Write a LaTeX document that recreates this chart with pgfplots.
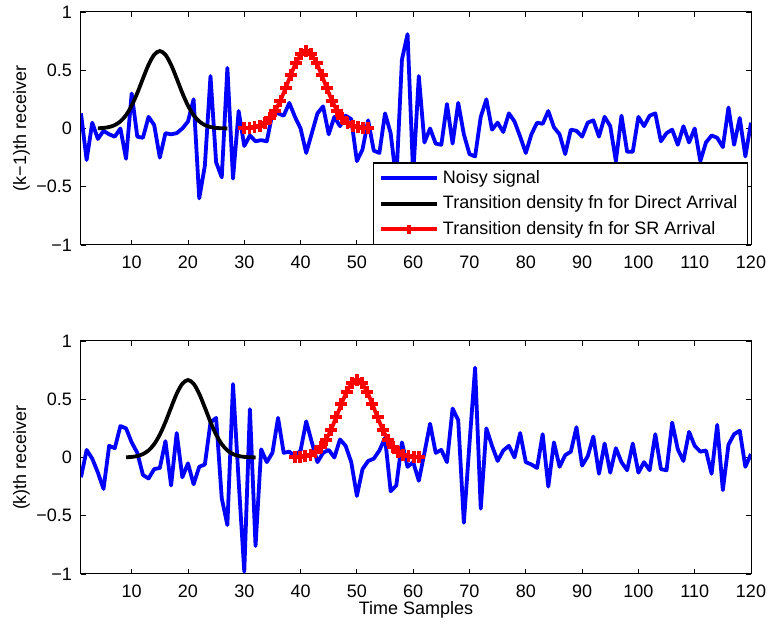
\documentclass[border=0pt]{standalone}
\usepackage{pgfplots}
\pgfplotsset{compat=1.18}
\usepackage{pgfplotstable}
\usepackage{fontspec}
\setmainfont{Liberation Sans}
\definecolor{mblue}{rgb}{0,0,1}
\definecolor{mred}{rgb}{1,0,0}

\pgfplotstableread{
x y
1 0.13
2 -0.27
3 0.05
4 -0.09
5 -0.02
6 -0.05
7 -0.07
8 0.0
9 -0.26
10 0.30
11 -0.07
12 -0.08
13 0.10
14 0.03
15 -0.25
16 -0.04
17 -0.05
18 -0.04
19 0.0
20 0.06
21 0.25
22 -0.60
23 -0.32
24 0.45
25 -0.29
26 -0.42
27 0.52
28 -0.43
29 0.15
30 -0.15
31 -0.06
32 -0.11
33 -0.10
34 -0.11
35 0.13
36 0.13
37 0.11
38 0.22
39 0.10
40 0.0
41 -0.21
42 -0.04
43 0.13
44 0.19
45 -0.05
46 0.10
47 0.02
48 0.11
49 0.08
50 -0.28
51 -0.18
52 0.07
53 -0.19
54 -0.21
55 0.13
56 -0.04
57 -0.45
58 0.59
59 0.81
60 -0.40
61 0.45
62 -0.12
63 0.0
64 -0.13
65 -0.14
66 0.21
67 -0.13
68 0.22
69 -0.05
70 -0.22
71 -0.24
72 0.10
73 0.25
74 -0.01
75 0.05
76 -0.03
77 0.13
78 0.06
79 -0.07
80 -0.21
81 -0.05
82 0.05
83 0.04
84 0.15
85 0.01
86 -0.05
87 -0.22
88 -0.01
89 -0.02
90 -0.07
91 0.05
92 0.07
93 -0.07
94 0.10
95 0.02
96 -0.28
97 0.11
98 -0.20
99 -0.20
100 0.10
101 0.02
102 0.11
103 0.13
104 -0.11
105 -0.04
106 -0.01
107 -0.14
108 0.02
109 -0.12
110 0.0
111 -0.28
112 -0.12
113 -0.06
114 -0.08
115 -0.16
116 0.18
117 -0.14
118 0.09
119 -0.24
120 0.05
}\noisetop

\pgfplotstableread{
x y
1 -0.17
2 0.065
3 -0.01
4 -0.13
5 -0.27
6 0.10
7 0.08
8 0.27
9 0.25
10 0.13
11 0.04
12 -0.15
13 -0.18
14 -0.10
15 -0.09
16 0.14
17 -0.24
18 0.21
19 -0.17
20 -0.05
21 -0.23
22 -0.08
23 -0.06
24 0.30
25 0.34
26 -0.35
27 -0.58
28 0.63
29 -0.20
30 -0.98
31 0.415
32 -0.76
33 0.07
34 -0.04
35 0.04
36 0.34
37 0.04
38 0.05
39 0.01
40 0.06
41 0.31
42 0.13
43 -0.04
44 0.04
45 0.065
46 0.0
47 0.155
48 0.10
49 -0.04
50 -0.33
51 -0.10
52 -0.03
53 -0.01
54 0.06
55 0.17
56 -0.29
57 -0.24
58 0.13
59 -0.08
60 -0.04
61 -0.20
62 0.04
63 0.29
64 0.04
65 0.065
66 -0.04
67 0.42
68 0.32
69 -0.56
70 0.12
71 0.77
72 -0.44
73 0.25
74 0.10
75 -0.03
76 0.06
77 0.10
78 0.0
79 0.21
80 -0.04
81 -0.06
82 -0.09
83 0.20
84 -0.25
85 0.13
86 -0.08
87 0.02
88 0.05
89 0.26
90 -0.07
91 0.01
92 0.18
93 -0.14
94 0.12
95 -0.13
96 0.08
97 -0.04
98 -0.11
99 0.12
100 -0.13
101 -0.04
102 -0.11
103 0.20
104 -0.10
105 -0.11
106 0.30
107 0.07
108 -0.03
109 0.22
110 0.10
111 0.05
112 0.06
113 -0.14
114 0.28
115 -0.28
116 0.11
117 0.20
118 0.23
119 -0.08
120 0.03
}\noisebot

\pgfplotstableread{
x y
4 0.0018
5 0.0050
6 0.0127
7 0.0292
8 0.0608
9 0.1146
10 0.1962
11 0.3044
12 0.4285
13 0.547
14 0.633
15 0.665
16 0.633
17 0.547
18 0.4285
19 0.3044
20 0.1962
21 0.1146
22 0.0608
23 0.0292
24 0.0127
25 0.0050
26 0.0018
27 0.0006
}\blacktop

\pgfplotstableread{
x y
9 0.0018
10 0.0050
11 0.0127
12 0.0292
13 0.0608
14 0.1146
15 0.1962
16 0.3044
17 0.4285
18 0.547
19 0.633
20 0.665
21 0.633
22 0.547
23 0.4285
24 0.3044
25 0.1962
26 0.1146
27 0.0608
28 0.0292
29 0.0127
30 0.0050
31 0.0018
32 0.0006
}\blackbot

\pgfplotstableread{
x y
30 0.0018
30.917 0.0046
31.833 0.0110
32.75 0.0239
33.667 0.0481
34.583 0.0890
35.5 0.1518
36.417 0.2384
37.333 0.3449
38.25 0.4597
39.167 0.564
40.083 0.638
41 0.665
41.917 0.638
42.833 0.564
43.75 0.4597
44.667 0.3449
45.583 0.2384
46.5 0.1518
47.417 0.0890
48.333 0.0481
49.25 0.0239
50.167 0.0110
51.083 0.0046
52 0.0018
}\redtop

\pgfplotstableread{
x y
39 0.0018
39.917 0.0046
40.833 0.0110
41.75 0.0239
42.667 0.0481
43.583 0.0890
44.5 0.1518
45.417 0.2384
46.333 0.3449
47.25 0.4597
48.167 0.564
49.083 0.638
50 0.665
50.917 0.638
51.833 0.564
52.75 0.4597
53.667 0.3449
54.583 0.2384
55.5 0.1518
56.417 0.0890
57.333 0.0481
58.25 0.0239
59.167 0.0110
60.083 0.0046
61 0.0018
}\redbot

\pgfplotsset{
  mstyle/.style={
    scale only axis, width=335pt, height=116.5pt,
    xmin=1, xmax=120, ymin=-1, ymax=1,
    xtick={10,20,30,40,50,60,70,80,90,100,110,120},
    xticklabels={10,20,30,40,50,60,70,80,90,100,110,120},
    ytick={-1,-0.5,0,0.5,1},
    yticklabels={−1,−0.5,0,0.5,1},
    tick align=inside, major tick length=2.5pt,
    tick style={black, line width=0.4pt},
    axis line style={line width=0.5pt},
    tick label style={font=\fontsize{9}{10}\selectfont},
    xticklabel style={yshift=-2pt},
    yticklabel style={xshift=-1pt},
    label style={font=\fontsize{9}{10}\selectfont},
    xtick pos=both, ytick pos=both,
    clip=true,
  },
  bluel/.style={color=mblue, line width=1.9pt, line join=round},
  blackl/.style={color=black, line width=1.9pt, smooth},
  redl/.style={color=mred, line width=1.9pt, mark=+, mark size=3pt, mark options={line width=1.9pt}},
}

\begin{document}
\begin{tikzpicture}
\begin{axis}[mstyle,
  at={(40.5pt,189.5pt)}, anchor=south west,
  ylabel={(k−1)th receiver},
  ylabel style={at={(axis description cs:-0.089,0.5)}, anchor=center},
  legend style={at={(axis description cs:0.9955,0.0)}, anchor=south east,
    draw=black, line width=0.6pt, fill=white, font=\fontsize{9}{10}\selectfont,
    row sep=0.8pt, inner xsep=3pt, inner ysep=1.5pt, cells={anchor=west}},
  legend cell align=left,
  legend image code/.code={\draw[#1, mark repeat=2, mark phase=2, mark size=2.2pt] plot coordinates {(0pt,0pt) (14pt,0pt) (28pt,0pt)};},
]
\addplot[bluel] table[x=x,y=y] {\noisetop};
\addlegendentry{Noisy signal}
\addplot[blackl] table[x=x,y=y] {\blacktop};
\addlegendentry{Transition density fn for Direct Arrival}
\addplot[redl] table[x=x,y=y] {\redtop};
\addlegendentry{Transition density fn for SR Arrival}
\end{axis}

\begin{axis}[mstyle,
  at={(40.5pt,25pt)}, anchor=south west,
  ylabel={(k)th receiver},
  ylabel style={at={(axis description cs:-0.089,0.5)}, anchor=center},
  xlabel={Time Samples},
  xlabel style={at={(axis description cs:0.5,-0.155)}, anchor=center},
]
\addplot[bluel] table[x=x,y=y] {\noisebot};
\addplot[blackl] table[x=x,y=y] {\blackbot};
\addplot[redl] table[x=x,y=y] {\redbot};
\end{axis}
\pgfresetboundingbox
\path[use as bounding box] (0,0) rectangle (383.5pt,312pt);
\end{tikzpicture}
\end{document}
